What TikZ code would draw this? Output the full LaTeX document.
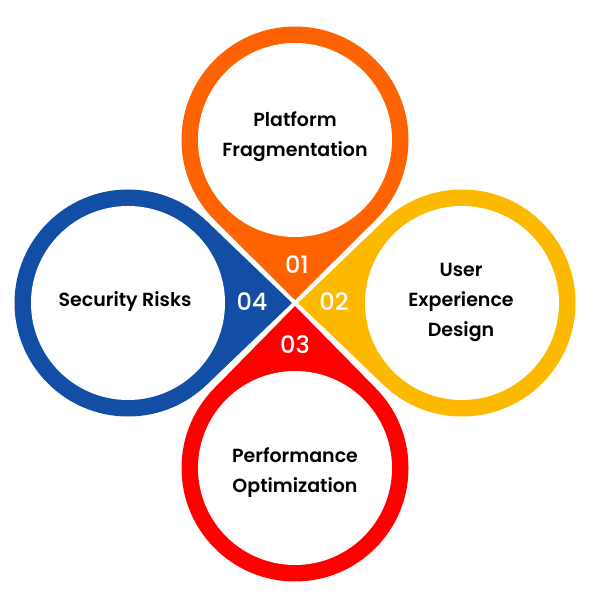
\documentclass[tikz,border=0pt]{standalone}
\usepackage{fontspec}
\setmainfont{Poppins}[UprightFont=* SemiBold]
\newfontfamily\numfont{Poppins}[UprightFont=* Medium]
\usetikzlibrary{calc}
\definecolor{orangeA}{HTML}{FF6300}
\definecolor{yellowA}{HTML}{FDB900}
\definecolor{redA}{HTML}{FF0000}
\definecolor{blueA}{HTML}{134EA6}
\begin{document}
\begin{tikzpicture}[x=1pt, y=1pt,
    outer/.style={circle, fill=#1, minimum size=227pt, inner sep=0pt, outer sep=0pt},
    hole/.style={circle, fill=white, minimum size=194pt, inner sep=0pt},
    txt/.style={align=center, font=\fontsize{19}{30}\selectfont, text=black},
    num/.style={text=white, font=\numfont\fontsize{24}{24}\selectfont}]
  \useasboundingbox (0,0) rectangle (590,607);

  % tips, pulled back a little from the middle
  \coordinate (t1) at (295,307);
  \coordinate (t2) at (298,304);
  \coordinate (t3) at (295,301);
  \coordinate (t4) at (292,304);

  \node[outer=orangeA] (c1) at (295,467) {};
  \node[outer=yellowA] (c2) at (462,304) {};
  \node[outer=redA] (c3) at (295,139) {};
  \node[outer=blueA] (c4) at (128,304) {};

  \fill[orangeA] (t1) -- (tangent cs:node=c1,point={(t1)},solution=1) -- (tangent cs:node=c1,point={(t1)},solution=2) -- cycle;
  \fill[yellowA] (t2) -- (tangent cs:node=c2,point={(t2)},solution=1) -- (tangent cs:node=c2,point={(t2)},solution=2) -- cycle;
  \fill[redA] (t3) -- (tangent cs:node=c3,point={(t3)},solution=1) -- (tangent cs:node=c3,point={(t3)},solution=2) -- cycle;
  \fill[blueA] (t4) -- (tangent cs:node=c4,point={(t4)},solution=1) -- (tangent cs:node=c4,point={(t4)},solution=2) -- cycle;

  \node[hole] (h1) at (c1) {};
  \node[hole] (h2) at (c2) {};
  \node[hole] (h3) at (c3) {};
  \node[hole] (h4) at (c4) {};

  \node[txt] (l1) at (295,470) {Platform\\Fragmentation};
  \node[txt] (l2) at (461,305) {User\\Experience\\Design};
  \node[txt] (l3) at (295,134) {Performance\\Optimization};
  \node[txt] (l4) at (125,305) {Security Risks};

  \node[num] (n1) at (297,342) {01};
  \node[num] (n2) at (334,305) {02};
  \node[num] (n3) at (295,262) {03};
  \node[num] (n4) at (252,305) {04};
\end{tikzpicture}
\end{document}
